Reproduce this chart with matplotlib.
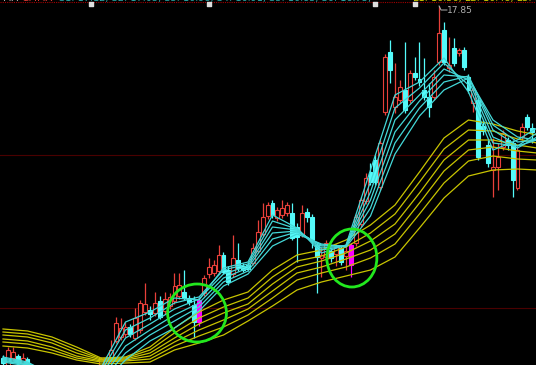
import matplotlib
matplotlib.use('Agg')
import matplotlib.pyplot as plt
from matplotlib.patches import Ellipse

# daily k-line data (price), one entry per day
opens = [14.33, 14.23, 14.33, 14.35, 14.28, 14.32, 14.23, 14.13, 14.18, 14.11,
         14.03, 14.08, 14.00, 14.05, 13.98, 14.05, 14.10, 14.05, 14.12, 14.18,
         14.25, 14.26, 14.31, 14.50, 14.54, 14.57, 14.64, 14.53, 14.61, 14.79,
         14.81, 14.78, 14.90, 14.80, 14.85, 14.90, 14.95, 14.99, 14.93, 14.86,
         14.69, 14.98, 15.17, 15.18, 15.20, 15.36, 15.21, 15.17, 15.31, 15.25,
         15.26, 15.28, 15.40, 15.57, 15.75, 15.88, 15.73, 15.76, 15.78, 15.78,
         15.64, 15.57, 15.79, 15.74, 15.46, 15.33, 15.34, 15.40, 15.37, 15.43,
         15.35, 15.26, 15.48, 15.67, 15.90, 16.19, 16.31, 16.04, 16.79, 17.39,
         16.84, 16.91, 17.01, 16.91, 17.18, 17.12, 17.01, 16.94, 16.94, 17.29,
         17.61, 17.23, 17.43, 17.38, 17.41, 17.14, 16.88, 16.91, 16.65, 16.46,
         16.21, 16.24, 16.44, 16.51, 16.48, 16.03, 16.54, 16.74, 16.63]
highs = [14.36, 14.44, 14.44, 14.37, 14.38, 14.34, 14.25, 14.22, 14.20, 14.13,
         14.11, 14.10, 14.07, 14.07, 14.08, 14.14, 14.12, 14.16, 14.21, 14.25,
         14.34, 14.35, 14.51, 14.74, 14.73, 14.69, 14.67, 14.83, 14.91, 15.08,
         14.85, 14.99, 14.95, 14.99, 14.98, 15.18, 15.18, 15.21, 14.96, 14.95,
         14.94, 15.16, 15.33, 15.31, 15.46, 15.39, 15.25, 15.56, 15.48, 15.28,
         15.29, 15.48, 15.71, 15.88, 15.89, 15.91, 15.84, 15.91, 15.89, 15.88,
         15.68, 15.86, 15.83, 15.77, 15.49, 15.44, 15.51, 15.43, 15.47, 15.46,
         15.46, 15.48, 15.77, 15.94, 16.18, 16.28, 16.36, 16.51, 17.37, 17.51,
         17.28, 17.11, 17.49, 17.21, 17.34, 17.49, 17.33, 17.08, 17.21, 17.85,
         17.69, 17.54, 17.53, 17.43, 17.44, 17.17, 17.04, 16.94, 16.71, 16.51,
         16.53, 16.48, 16.61, 16.54, 16.51, 16.44, 16.68, 16.77, 16.68]
lows = [14.23, 14.19, 14.30, 14.26, 14.25, 14.21, 14.13, 14.11, 14.08, 14.02,
        14.01, 13.98, 13.97, 13.96, 13.96, 14.03, 14.02, 14.03, 14.10, 14.15,
        14.23, 14.24, 14.28, 14.48, 14.51, 14.54, 14.54, 14.51, 14.58, 14.76,
        14.71, 14.75, 14.72, 14.77, 14.82, 14.87, 14.92, 14.91, 14.86, 14.53,
        14.65, 14.95, 15.13, 15.15, 15.17, 15.17, 15.06, 15.14, 15.20, 15.19,
        15.20, 15.26, 15.38, 15.55, 15.72, 15.73, 15.70, 15.73, 15.75, 15.51,
        15.29, 15.54, 15.69, 15.43, 14.98, 15.14, 15.29, 15.29, 15.25, 15.26,
        15.21, 15.14, 15.45, 15.64, 15.87, 16.06, 16.06, 16.01, 16.76, 17.08,
        16.78, 16.88, 16.78, 16.88, 17.11, 17.05, 16.91, 16.74, 16.91, 17.26,
        17.26, 17.19, 17.25, 17.35, 17.21, 16.98, 16.79, 16.31, 16.56, 16.24,
        15.94, 16.01, 16.41, 16.41, 15.94, 16.01, 16.51, 16.61, 16.48]
closes = [14.28, 14.41, 14.39, 14.29, 14.33, 14.25, 14.16, 14.19, 14.11, 14.05,
          14.09, 14.01, 14.05, 13.99, 14.06, 14.11, 14.05, 14.13, 14.19, 14.23,
          14.32, 14.33, 14.41, 14.68, 14.63, 14.64, 14.57, 14.73, 14.88, 14.87,
          14.77, 14.88, 14.74, 14.92, 14.94, 15.05, 15.06, 14.93, 14.89, 14.69,
          14.91, 15.13, 15.24, 15.26, 15.36, 15.19, 15.09, 15.33, 15.23, 15.21,
          15.22, 15.43, 15.59, 15.74, 15.86, 15.76, 15.81, 15.83, 15.86, 15.53,
          15.54, 15.78, 15.74, 15.51, 15.34, 15.36, 15.48, 15.33, 15.44, 15.29,
          15.40, 15.46, 15.74, 15.91, 16.13, 16.09, 16.09, 16.48, 17.34, 17.21,
          16.94, 17.04, 16.81, 17.18, 17.14, 17.09, 16.94, 16.84, 17.14, 17.58,
          17.29, 17.26, 17.28, 17.41, 17.24, 17.01, 17.01, 16.34, 16.60, 16.28,
          16.24, 16.34, 16.58, 16.46, 16.11, 16.41, 16.64, 16.64, 16.59]
signal_days = [40, 71]

# GMMA lines, read every 5 days
ma_days = [0, 5, 10, 15, 20, 25, 30, 35, 40, 45, 50, 55, 60, 65, 70, 75,
           80, 85, 90, 95, 100, 105, 109]
short_1 = [14.34, 14.29, 14.16, 14.11, 14.23, 14.69, 14.79, 14.93, 14.91, 15.23, 15.29, 15.76,
           15.63, 15.38, 15.46, 16.21, 16.96, 17.09, 17.33, 16.99, 16.41, 16.51, 16.63]
short_2 = [14.33, 14.28, 14.17, 14.11, 14.19, 14.61, 14.73, 14.88, 14.94, 15.21, 15.27, 15.70,
           15.62, 15.41, 15.45, 16.09, 16.83, 17.03, 17.28, 17.06, 16.48, 16.45, 16.58]
short_3 = [14.32, 14.27, 14.18, 14.12, 14.15, 14.53, 14.67, 14.82, 14.92, 15.17, 15.25, 15.64,
           15.61, 15.43, 15.45, 15.99, 16.71, 16.96, 17.22, 17.11, 16.54, 16.43, 16.54]
short_4 = [14.31, 14.26, 14.18, 14.12, 14.12, 14.45, 14.61, 14.76, 14.88, 15.13, 15.23, 15.58,
           15.60, 15.45, 15.45, 15.91, 16.59, 16.90, 17.16, 17.14, 16.61, 16.45, 16.51]
short_5 = [14.30, 14.26, 14.19, 14.13, 14.09, 14.38, 14.56, 14.70, 14.84, 15.09, 15.20, 15.52,
           15.59, 15.46, 15.45, 15.83, 16.48, 16.83, 17.09, 17.15, 16.66, 16.49, 16.51]
short_6 = [14.29, 14.25, 14.19, 14.13, 14.06, 14.31, 14.50, 14.63, 14.80, 15.05, 15.17, 15.45,
           15.57, 15.47, 15.44, 15.75, 16.37, 16.75, 17.01, 17.13, 16.71, 16.54, 16.51]
long_1 = [14.62, 14.60, 14.54, 14.44, 14.33, 14.34, 14.44, 14.63, 14.79, 14.91, 14.99, 15.21,
          15.36, 15.41, 15.51, 15.66, 15.86, 16.19, 16.53, 16.71, 16.67, 16.60, 16.56]
long_2 = [14.59, 14.57, 14.51, 14.41, 14.32, 14.33, 14.41, 14.58, 14.73, 14.84, 14.93, 15.14,
          15.30, 15.35, 15.44, 15.58, 15.77, 16.09, 16.42, 16.61, 16.60, 16.52, 16.48]
long_3 = [14.56, 14.54, 14.48, 14.38, 14.31, 14.32, 14.38, 14.53, 14.67, 14.78, 14.87, 15.07,
          15.24, 15.30, 15.38, 15.50, 15.67, 15.98, 16.31, 16.51, 16.51, 16.46, 16.43]
long_4 = [14.52, 14.50, 14.44, 14.35, 14.30, 14.31, 14.35, 14.49, 14.61, 14.71, 14.82, 15.00,
          15.18, 15.24, 15.32, 15.41, 15.57, 15.88, 16.20, 16.41, 16.44, 16.40, 16.38]
long_5 = [14.49, 14.47, 14.41, 14.33, 14.29, 14.30, 14.32, 14.45, 14.55, 14.64, 14.76, 14.93,
          15.11, 15.18, 15.24, 15.33, 15.47, 15.77, 16.08, 16.30, 16.35, 16.32, 16.31]
long_6 = [14.45, 14.43, 14.38, 14.31, 14.27, 14.28, 14.29, 14.41, 14.48, 14.56, 14.70, 14.85,
          15.01, 15.09, 15.15, 15.21, 15.34, 15.63, 15.93, 16.15, 16.21, 16.22, 16.21]

high_label = "17.85"
high_day = 89
marker_days = [18, 42, 76, 84]
grid_prices = [16.36, 14.83]

RED = '#e8403a'
CYAN = '#54fafa'
MA_CYAN = '#44d8d8'
MA_YELLOW = '#c8c400'

fig = plt.figure(figsize=(5.36, 3.65), dpi=100, facecolor='black')
ax = fig.add_axes([0, 0, 1, 1])
ax.set_facecolor('black')
ax.set_xlim(-0.612, 108.78)
ax.set_ylim(14.26, 17.91)
ax.axis('off')

for g in grid_prices:
    ax.axhline(g, color='#4a0000', lw=0.8, zorder=0)
ax.axhline(17.885, color='#a00000', lw=0.8, ls=(0, (1, 1)), zorder=0)

# candles
w = 0.8
for i in range(len(opens)):
    o, h, l, c = opens[i], highs[i], lows[i], closes[i]
    top, bot = max(o, c), min(o, c)
    if i in signal_days:
        col, face = '#ff00ff', '#ff00ff'
    elif c >= o:
        col, face = RED, 'black'
    else:
        col, face = CYAN, CYAN
    ax.vlines(i, top, h, color=col, lw=0.9, zorder=2)
    ax.vlines(i, l, bot, color=col, lw=0.9, zorder=2)
    ax.bar(i, max(top - bot, 0.01), bottom=bot, width=w, facecolor=face,
           edgecolor=col, linewidth=0.8, zorder=2)

for line in [long_1, long_2, long_3, long_4, long_5, long_6]:
    ax.plot(ma_days, line, color=MA_YELLOW, lw=0.9, zorder=3)
for line in [short_1, short_2, short_3, short_4, short_5, short_6]:
    ax.plot(ma_days, line, color=MA_CYAN, lw=0.9, zorder=3)

# circles around the signal days
ax.add_patch(Ellipse((39.6, 14.78), 12.0, 0.58, fill=False, ec='#22e81e', lw=2.0, zorder=5))
ax.add_patch(Ellipse((71.2, 15.33), 10.2, 0.58, fill=False, ec='#22e81e', lw=2.0, zorder=5))

# high label
ax.plot([high_day, high_day + 0.4, high_day + 1.6], [17.85, 17.81, 17.81], color='#b0b0b0', lw=0.7, zorder=4)
ax.text(high_day + 1.7, 17.81, high_label, color='#b0b0b0', fontsize=6.5, va='center', ha='left', zorder=4)

# event markers along the top line
ax.scatter(marker_days, [17.87] * len(marker_days), marker='s', s=9, color='#dddddd', zorder=4)

# header text cut by the top edge
fig.text(0.005, 1.006, "MA", color='#bbbbbb', fontsize=7, va='center')
fig.text(0.04, 1.006, "GMMA", color=RED, fontsize=7, va='center')
fig.text(0.11, 1.006, "S1: 17.12, S2: 17.05, S3: 16.98, S4: 16.91, S5: 16.83, S6: 16.75,",
         color='#2aa6a6', fontsize=7, va='center')
fig.text(0.77, 1.006, "L1: 16.56, L2: 16.48, L3: 16.4",
         color=MA_YELLOW, fontsize=7, va='center')

fig.savefig('out.png', dpi=100, facecolor='black')
